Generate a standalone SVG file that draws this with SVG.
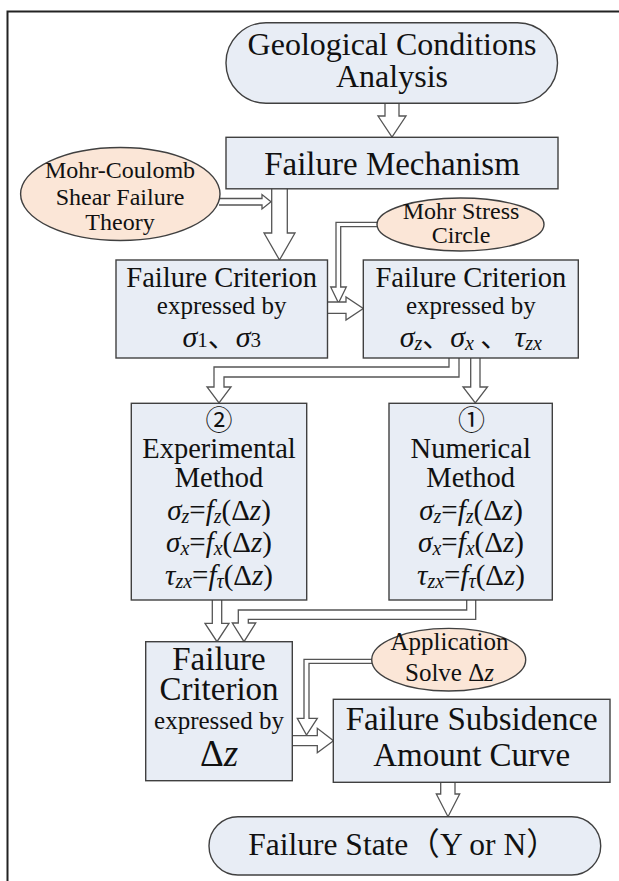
<svg xmlns="http://www.w3.org/2000/svg" width="619" height="881" viewBox="0 0 619 881">
<style>
.box{fill:#E8EDF5;stroke:#404040;stroke-width:1.4}
.ell{fill:#FBE6D7;stroke:#404040;stroke-width:1.4}
.arr{fill:#FFFFFF;stroke:#555555;stroke-width:1.3;stroke-linejoin:miter}
text{font-family:"Liberation Serif","Times New Roman",Tinos,serif;fill:#111111;text-anchor:middle}
.t33{font-size:33px}
.t32{font-size:32px}
.t28{font-size:28.5px}
.t25{font-size:25px}
.t24{font-size:24px}
.m{font-size:28px}
.eq{font-size:29px}
.i{font-style:italic}
.s{font-size:20px;font-style:italic}
.s1{font-size:21px}
.c{font-size:27px;font-family:"Noto Sans CJK SC","DejaVu Sans",sans-serif}
.k{font-family:"Noto Sans CJK SC",sans-serif}
</style>
<path d="M7.5,881 V11.5 H619" fill="none" stroke="#222222" stroke-width="2"/>

<g id="connectors">
  <path class="arr" d="M385,102 V116 H378 L392,137 L406,116 H399 V102"/>
  <path class="arr" d="M271.7,188 V233 H264 L279.5,260 L295,233 H287.3 V188"/>
  <path class="arr" d="M219,198.5 H262 V194.5 L271,201.8 L262,209 V205 H219"/>
  <path class="arr" d="M378,222.3 H336 V287 H330.7 L338.5,303 L346.3,287 H340.7 V226.7 H378"/>
  <path class="arr" d="M327,302 H346 V297 L363.3,308.5 L346,320 V313.3 H327"/>
  <path class="arr" d="M449,357 V367 H214 V387 H207 L219,403 L231,387 H224 V377 H459 V357"/>
  <path class="arr" d="M470.7,357 V387 H463 L475.3,403 L487.5,387 H480 V357"/>
  <path class="arr" d="M212.3,599 V623.3 H205 L217,641.7 L229,623.3 H221.7 V599"/>
  <path class="arr" d="M466.7,599 V610 H238.3 V623 H232.3 L244,641.7 L255.7,623 H248.3 V619.3 H475.7 V599"/>
  <path class="arr" d="M373,659.3 H304 V718.3 H297.3 L306.5,735 L317.3,718.3 H309 V663.3 H373"/>
  <path class="arr" d="M291.5,735.7 H317.3 V728.3 L333.5,740.7 L317.3,752.7 V745.7 H291.5"/>
  <path class="arr" d="M440.7,781.5 V794 H436.3 L448,816.7 L459.7,794 H455 V781.5"/>
</g>

<g id="geological">
  <rect class="box" x="226" y="22.7" width="331.5" height="80.6" rx="40" ry="40"/>
  <text class="t32" x="392" y="55">Geological Conditions</text>
  <text class="t32" x="392" y="87">Analysis</text>
</g>

<g id="mechanism">
  <rect class="box" x="226" y="137.3" width="332" height="51.5"/>
  <text class="t33" x="392" y="175">Failure Mechanism</text>
</g>

<g id="mohr-coulomb">
  <ellipse class="ell" cx="120.3" cy="194" rx="99.7" ry="46.5"/>
  <text class="t24" x="120" y="178">Mohr-Coulomb</text>
  <text class="t24" x="120" y="205">Shear Failure</text>
  <text class="t24" x="120" y="230">Theory</text>
</g>

<g id="mohr-stress">
  <ellipse class="ell" cx="460.5" cy="224.5" rx="83.5" ry="26.5"/>
  <text class="t24" x="461" y="218.5">Mohr Stress</text>
  <text class="t24" x="461" y="243">Circle</text>
</g>

<g id="criterion-principal">
  <rect class="box" x="116" y="260" width="211.5" height="98"/>
  <text class="t28" x="221.7" y="286.7">Failure Criterion</text>
  <text class="t25" x="221.7" y="314">expressed by</text>
  <text class="m" x="221.7" y="347"><tspan class="i" style="font-size:30px">σ</tspan><tspan class="s1">1</tspan><tspan class="k">、</tspan><tspan class="i" style="font-size:30px">σ</tspan><tspan class="s1">3</tspan></text>
</g>

<g id="criterion-components">
  <rect class="box" x="363.3" y="260" width="215" height="98"/>
  <text class="t28" x="470.8" y="286.7">Failure Criterion</text>
  <text class="t25" x="470.8" y="314">expressed by</text>
  <text class="m" x="470.8" y="347"><tspan class="i" style="font-size:30px">σ</tspan><tspan class="s" dy="3">z</tspan><tspan class="k" dy="-3">、</tspan><tspan class="i" style="font-size:30px">σ</tspan><tspan class="s" dy="3">x</tspan><tspan class="k" dy="-3"> 、 </tspan><tspan class="i" style="font-size:30px">τ</tspan><tspan class="s" dy="3">zx</tspan></text>
</g>

<g id="experimental">
  <rect class="box" x="131.3" y="403.3" width="175.4" height="196.7"/>
  <text class="c" x="219" y="430">②</text>
  <text class="t28" x="219" y="458.3">Experimental</text>
  <text class="t28" x="219" y="486.7">Method</text>
  <text class="eq" x="219" y="520"><tspan class="i">σ</tspan><tspan class="s" dy="3">z</tspan><tspan dy="-3">=</tspan><tspan class="i">f</tspan><tspan class="s" dy="3">z</tspan><tspan dy="-3">(Δ</tspan><tspan class="i">z</tspan>)</text>
  <text class="eq" x="219" y="552"><tspan class="i">σ</tspan><tspan class="s" dy="3">x</tspan><tspan dy="-3">=</tspan><tspan class="i">f</tspan><tspan class="s" dy="3">x</tspan><tspan dy="-3">(Δ</tspan><tspan class="i">z</tspan>)</text>
  <text class="eq" x="219" y="585"><tspan class="i">τ</tspan><tspan class="s" dy="3">zx</tspan><tspan dy="-3">=</tspan><tspan class="i">f</tspan><tspan class="s" dy="3">τ</tspan><tspan dy="-3">(Δ</tspan><tspan class="i">z</tspan>)</text>
</g>

<g id="numerical">
  <rect class="box" x="389" y="403.3" width="163.3" height="196.7"/>
  <text class="c" x="471.5" y="430">①</text>
  <text class="t28" x="470.7" y="458.3">Numerical</text>
  <text class="t28" x="470.7" y="486.7">Method</text>
  <text class="eq" x="471" y="520"><tspan class="i">σ</tspan><tspan class="s" dy="3">z</tspan><tspan dy="-3">=</tspan><tspan class="i">f</tspan><tspan class="s" dy="3">z</tspan><tspan dy="-3">(Δ</tspan><tspan class="i">z</tspan>)</text>
  <text class="eq" x="471" y="552"><tspan class="i">σ</tspan><tspan class="s" dy="3">x</tspan><tspan dy="-3">=</tspan><tspan class="i">f</tspan><tspan class="s" dy="3">x</tspan><tspan dy="-3">(Δ</tspan><tspan class="i">z</tspan>)</text>
  <text class="eq" x="471" y="585"><tspan class="i">τ</tspan><tspan class="s" dy="3">zx</tspan><tspan dy="-3">=</tspan><tspan class="i">f</tspan><tspan class="s" dy="3">τ</tspan><tspan dy="-3">(Δ</tspan><tspan class="i">z</tspan>)</text>
</g>

<g id="criterion-dz">
  <rect class="box" x="145.7" y="641.7" width="146.6" height="139"/>
  <text class="t33" x="219" y="670">Failure</text>
  <text class="t33" x="219" y="700">Criterion</text>
  <text class="t25" x="219" y="729">expressed by</text>
  <text style="font-size:37px" x="219" y="766">Δ<tspan class="i">z</tspan></text>
</g>

<g id="application">
  <ellipse class="ell" cx="448.7" cy="659.7" rx="77" ry="31.3"/>
  <text class="t25" x="449.5" y="650">Application</text>
  <text class="t25" x="449.5" y="680.7">Solve Δ<tspan class="i">z</tspan></text>
</g>

<g id="subsidence">
  <rect class="box" x="333.3" y="699.3" width="276.7" height="83"/>
  <text class="t33" x="471.7" y="730">Failure Subsidence</text>
  <text class="t33" x="471.7" y="765.7">Amount Curve</text>
</g>

<g id="failure-state">
  <rect class="box" x="209" y="816.7" width="391.7" height="58.3" rx="29" ry="29"/>
  <text style="font-size:31.5px" x="403" y="855">Failure State<tspan class="k">（</tspan>Y or N<tspan class="k">）</tspan></text>
</g>
</svg>
